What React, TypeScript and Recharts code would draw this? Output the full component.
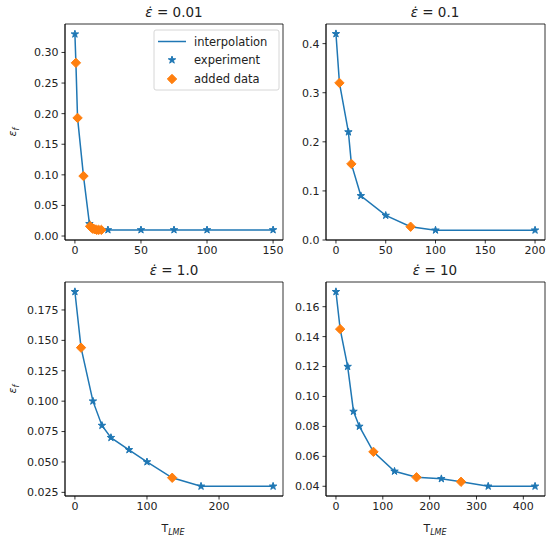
import { ComposedChart, Line, Scatter, XAxis, YAxis, ReferenceArea } from "recharts";

const BLUE = "#1f77b4";
const ORANGE = "#ff7f0e";
const FONT = "DejaVu Sans, sans-serif";
const TXT = "#222";

// rate 0.01
const t001Exp = [0, 11, 25, 50, 75, 100, 150];
const e001Exp = [0.33, 0.02, 0.01, 0.01, 0.01, 0.01, 0.01];
const t001Add = [0.75, 2, 6.5, 11.5, 12.5, 13.5, 15, 16.5, 18, 20];
const e001Add = [0.283, 0.193, 0.098, 0.016, 0.014, 0.012, 0.011, 0.01, 0.01, 0.01];

// rate 0.1
const t01Exp = [0, 12.5, 25, 50, 100, 200];
const e01Exp = [0.42, 0.22, 0.09, 0.05, 0.02, 0.02];
const t01Add = [3.5, 15.5, 75];
const e01Add = [0.32, 0.155, 0.027];

// rate 1.0
const t1Exp = [0, 25, 37.5, 50, 75, 100, 175, 275];
const e1Exp = [0.19, 0.1, 0.08, 0.07, 0.06, 0.05, 0.03, 0.03];
const t1Add = [8.5, 135];
const e1Add = [0.144, 0.037];

// rate 10
const t10Exp = [0, 25, 37.5, 50, 125, 225, 325, 425];
const e10Exp = [0.17, 0.12, 0.09, 0.08, 0.05, 0.045, 0.04, 0.04];
const t10Add = [9, 80, 172, 267];
const e10Add = [0.145, 0.063, 0.046, 0.043];

const xTicks001 = [0, 50, 100, 150];
const yTicks001 = [0, 0.05, 0.1, 0.15, 0.2, 0.25, 0.3];
const xTicks01 = [0, 50, 100, 150, 200];
const yTicks01 = [0, 0.1, 0.2, 0.3, 0.4];
const xTicks1 = [0, 100, 200];
const yTicks1 = [0.025, 0.05, 0.075, 0.1, 0.125, 0.15, 0.175];
const xTicks10 = [0, 100, 200, 300, 400];
const yTicks10 = [0.04, 0.06, 0.08, 0.1, 0.12, 0.14, 0.16];

type Pt = { x: number; y: number };
const pts = (xs: number[], ys: number[]): Pt[] => xs.map((x, i) => ({ x, y: ys[i] }));
const merged = (a: Pt[], b: Pt[]) => [...a, ...b].sort((p, q) => p.x - q.x);

const Star = (props: any) => {
  const { cx, cy } = props;
  if (cx == null || cy == null) return null;
  const R = 3.9;
  const r = R * 0.382;
  let d = "";
  for (let i = 0; i < 10; i++) {
    const rad = i % 2 === 0 ? R : r;
    const a = (Math.PI / 5) * i - Math.PI / 2;
    d += (i === 0 ? "M" : "L") + (cx + rad * Math.cos(a)).toFixed(2) + "," + (cy + rad * Math.sin(a)).toFixed(2);
  }
  return <path d={d + "Z"} fill={BLUE} stroke={BLUE} strokeWidth={1} strokeLinejoin="miter" />;
};

const Diamond = (props: any) => {
  const { cx, cy } = props;
  if (cx == null || cy == null) return null;
  const s = 4.7;
  return (
    <path d={`M${cx},${cy - s}L${cx + s},${cy}L${cx},${cy + s}L${cx - s},${cy}Z`} fill={ORANGE} stroke={ORANGE} strokeWidth={1} />
  );
};

type PanelProps = {
  left: number;
  top: number;
  width: number;
  height: number;
  marginTop: number;
  yWidth: number;
  plotW: number;
  xHeight: number;
  xDomain: [number, number];
  yDomain: [number, number];
  xTicks: number[];
  yTicks: number[];
  dec: number;
  exp: Pt[];
  added: Pt[];
};

function Panel(p: PanelProps) {
  const tick = { fontSize: 11, fill: TXT, fontFamily: FONT };
  return (
    <div style={{ position: "absolute", left: p.left, top: p.top }}>
      <ComposedChart
        width={p.width}
        height={p.height}
        margin={{ top: p.marginTop, right: p.width - p.yWidth - p.plotW, bottom: 0, left: 0 }}
      >
        <XAxis
          type="number"
          dataKey="x"
          domain={p.xDomain}
          ticks={p.xTicks}
          interval={0}
          allowDataOverflow
          height={p.xHeight}
          tick={tick}
          tickSize={3.5}
          tickMargin={3}
          tickLine={{ stroke: "#000", strokeWidth: 0.8 }}
          axisLine={{ stroke: "#000", strokeWidth: 0.8 }}
        />
        <YAxis
          type="number"
          dataKey="y"
          domain={p.yDomain}
          ticks={p.yTicks}
          interval={0}
          allowDataOverflow
          width={p.yWidth}
          tick={tick}
          tickSize={3.5}
          tickMargin={3}
          tickFormatter={(v: number) => v.toFixed(p.dec)}
          tickLine={{ stroke: "#000", strokeWidth: 0.8 }}
          axisLine={{ stroke: "#000", strokeWidth: 0.8 }}
        />
        <ReferenceArea
          x1={p.xDomain[0]}
          x2={p.xDomain[1]}
          y1={p.yDomain[0]}
          y2={p.yDomain[1]}
          fill="none"
          fillOpacity={0}
          stroke="#000"
          strokeWidth={0.8}
        />
        <Line
          data={merged(p.exp, p.added)}
          dataKey="y"
          stroke={BLUE}
          strokeWidth={1.5}
          dot={false}
          activeDot={false}
          isAnimationActive={false}
        />
        <Scatter data={p.exp} dataKey="y" shape={Star} isAnimationActive={false} />
        <Scatter data={p.added} dataKey="y" shape={Diamond} isAnimationActive={false} />
      </ComposedChart>
    </div>
  );
}

const Title = ({ x, y, rate }: { x: number; y: number; rate: string }) => (
  <text x={x} y={y} textAnchor="middle" fontFamily={FONT} fontSize={13.5} fill={TXT}>
    <tspan fontStyle="italic">{"\u03b5\u0307"}</tspan>
    <tspan>{" = " + rate}</tspan>
  </text>
);

const YLab = ({ x, y }: { x: number; y: number }) => (
  <text x={x} y={y} transform={`rotate(-90 ${x} ${y})`} textAnchor="middle" fontFamily={FONT} fontSize={11} fill={TXT}>
    <tspan fontStyle="italic">{"\u03b5"}</tspan>
    <tspan fontStyle="italic" fontSize={8} dy={2.5}>f</tspan>
  </text>
);

const XLab = ({ x, y }: { x: number; y: number }) => (
  <text x={x} y={y} textAnchor="middle" fontFamily={FONT} fontSize={11} fill={TXT}>
    <tspan>T</tspan>
    <tspan fontStyle="italic" fontSize={8} dy={2.5}>LME</tspan>
  </text>
);

export default function App() {
  return (
    <div style={{ position: "absolute", left: 0, top: 0, width: 550, height: 538, background: "#fff" }}>
      <Panel
        left={0} top={0} width={290} height={262} marginTop={24} yWidth={65} plotW={218} xHeight={22}
        xDomain={[-7.5, 157.5]} yDomain={[-0.0065, 0.3465]} xTicks={xTicks001} yTicks={yTicks001} dec={2}
        exp={pts(t001Exp, e001Exp)} added={pts(t001Add, e001Add)}
      />
      <Panel
        left={275} top={0} width={275} height={262} marginTop={24} yWidth={51} plotW={219} xHeight={22}
        xDomain={[-10, 210]} yDomain={[0, 0.44]} xTicks={xTicks01} yTicks={yTicks01} dec={1}
        exp={pts(t01Exp, e01Exp)} added={pts(t01Add, e01Add)}
      />
      <Panel
        left={0} top={262} width={290} height={276} marginTop={20} yWidth={65} plotW={218} xHeight={42}
        xDomain={[-13.75, 288.75]} yDomain={[0.022, 0.198]} xTicks={xTicks1} yTicks={yTicks1} dec={3}
        exp={pts(t1Exp, e1Exp)} added={pts(t1Add, e1Add)}
      />
      <Panel
        left={275} top={262} width={275} height={276} marginTop={20} yWidth={51} plotW={219} xHeight={42}
        xDomain={[-21.25, 446.25]} yDomain={[0.0335, 0.1765]} xTicks={xTicks10} yTicks={yTicks10} dec={2}
        exp={pts(t10Exp, e10Exp)} added={pts(t10Add, e10Add)}
      />
      <svg width={550} height={538} style={{ position: "absolute", left: 0, top: 0, pointerEvents: "none" }}>
        <Title x={174} y={17} rate="0.01" />
        <Title x={435} y={17} rate="0.1" />
        <Title x={174} y={275} rate="1.0" />
        <Title x={435} y={275} rate="10" />
        <YLab x={16} y={132} />
        <YLab x={16} y={389} />
        <XLab x={173} y={532} />
        <XLab x={435} y={532} />
        <g>
          <rect x={154} y={30} width={125} height={60} rx={2} fill="#fff" fillOpacity={0.8} stroke="#ccc" strokeWidth={0.8} />
          <line x1={158} y1={41.5} x2={186} y2={41.5} stroke={BLUE} strokeWidth={1.5} />
          <Star cx={172} cy={60} />
          <Diamond cx={172} cy={79} />
          <text x={194} y={45.5} fontFamily={FONT} fontSize={11.5} fill={TXT}>interpolation</text>
          <text x={194} y={64} fontFamily={FONT} fontSize={11.5} fill={TXT}>experiment</text>
          <text x={194} y={83} fontFamily={FONT} fontSize={11.5} fill={TXT}>added data</text>
        </g>
      </svg>
    </div>
  );
}
